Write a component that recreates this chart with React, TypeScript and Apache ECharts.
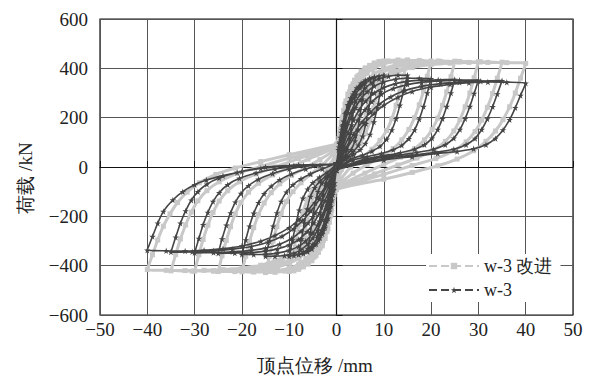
import React, { useEffect, useRef } from "react";
import * as echarts from "echarts";

// x-axis / y-axis ticks
const xTicks = [-50, -40, -30, -20, -10, 0, 10, 20, 30, 40, 50];
const yTicks = [-600, -400, -200, 0, 200, 400, 600];

// w-3 (dark, star markers): one hysteresis cycle per array, [displacement mm, load kN]
const w3_d02 = [[0,10],[0.4,70],[0.8,120],[1.2,150],[1.6,170],[2,180],[1.7,130],[1.4,80],[1,40],[0.5,10],[0,-10],[-0.4,-65],[-0.8,-112],[-1.2,-142],[-1.6,-160],[-2,-170],[-1.7,-122],[-1.4,-75],[-1,-38],[-0.5,-8],[0,10]];
const w3_d04 = [[0,12],[0.5,80],[1,140],[1.5,185],[2,220],[2.5,245],[3,265],[3.5,280],[4,290],[3.6,230],[3.2,170],[2.8,115],[2.3,70],[1.6,40],[0.8,18],[0,-12],[-0.5,-78],[-1,-135],[-1.5,-180],[-2,-213],[-2.5,-238],[-3,-258],[-3.5,-272],[-4,-280],[-3.6,-220],[-3.2,-162],[-2.8,-110],[-2.3,-66],[-1.6,-37],[-0.8,-15],[0,12]];
const w3_d06 = [[0,14],[0.6,95],[1.2,165],[1.8,215],[2.4,252],[3,280],[3.8,305],[4.6,322],[5.3,333],[6,340],[5.5,275],[5,210],[4.5,152],[3.9,105],[3.1,70],[2,45],[1,24],[0,-12],[-0.6,-92],[-1.2,-160],[-1.8,-208],[-2.4,-245],[-3,-272],[-3.8,-297],[-4.6,-314],[-5.3,-324],[-6,-330],[-5.5,-266],[-5,-202],[-4.5,-146],[-3.9,-100],[-3.1,-66],[-2,-42],[-1,-22],[0,14]];
const w3_d08 = [[0,15],[0.7,100],[1.4,170],[2.1,225],[2.8,265],[3.5,295],[4.3,320],[5.2,340],[6.1,352],[7,360],[8,365],[7.4,300],[6.8,235],[6.2,175],[5.5,125],[4.6,88],[3.5,62],[2.2,40],[1,20],[0,-12],[-0.7,-97],[-1.4,-165],[-2.1,-218],[-2.8,-258],[-3.5,-288],[-4.3,-312],[-5.2,-332],[-6.1,-344],[-7,-351],[-8,-355],[-7.4,-292],[-6.8,-228],[-6.2,-170],[-5.5,-120],[-4.6,-84],[-3.5,-58],[-2.2,-37],[-1,-18],[0,15]];
const w3_d10 = [[0,15],[0.8,95],[1.6,165],[2.4,220],[3.2,262],[4,293],[5,320],[6,340],[7,354],[8,363],[9,369],[10,372],[9.3,305],[8.6,240],[7.9,182],[7.1,132],[6.1,95],[5,70],[3.6,50],[2,32],[0,-12],[-0.8,-92],[-1.6,-160],[-2.4,-214],[-3.2,-256],[-4,-287],[-5,-313],[-6,-332],[-7,-345],[-8,-354],[-9,-359],[-10,-362],[-9.3,-296],[-8.6,-232],[-7.9,-175],[-7.1,-127],[-6.1,-90],[-5,-64],[-3.6,-42],[-2,-22],[0,15]];
const w3_d15 = [[0,15],[1,95],[2,165],[3,220],[4,262],[5,295],[6,318],[7.5,342],[9,358],[11,368],[13,372],[15,372],[14.2,310],[13.4,250],[12.6,196],[11.7,150],[10.6,112],[9.2,84],[7.5,64],[5.5,48],[3,32],[0,-12],[-1,-92],[-2,-160],[-3,-214],[-4,-256],[-5,-288],[-6,-311],[-7.5,-335],[-9,-350],[-11,-359],[-13,-362],[-15,-362],[-14.2,-300],[-13.4,-240],[-12.6,-186],[-11.7,-140],[-10.6,-102],[-9.2,-72],[-7.5,-48],[-5.5,-28],[-3,-8],[0,15]];
const w3_d20 = [[0,14],[1,80],[2,145],[3,198],[4,240],[5,272],[6.5,305],[8,328],[10,345],[12.5,356],[15,360],[17.5,360],[20,358],[19.2,300],[18.4,245],[17.5,194],[16.5,150],[15.3,115],[13.8,88],[12,70],[9.5,55],[6.5,42],[3.5,28],[0,-12],[-1,-80],[-2,-143],[-3,-195],[-4,-236],[-5,-268],[-6.5,-300],[-8,-322],[-10,-338],[-12.5,-349],[-15,-354],[-17.5,-355],[-20,-355],[-19.2,-296],[-18.4,-240],[-17.5,-188],[-16.5,-145],[-15.3,-108],[-13.8,-78],[-12,-52],[-9.5,-28],[-6.5,-8],[-3.5,6],[0,14]];
const w3_d25 = [[0,13],[1.2,75],[2.4,138],[3.6,190],[4.8,232],[6.2,268],[8,300],[10,322],[12.5,338],[15,347],[18,352],[21.5,354],[25,355],[24.2,300],[23.3,245],[22.4,196],[21.4,152],[20.2,117],[18.6,90],[16.5,72],[13.5,58],[10,46],[6,32],[0,-12],[-1.2,-75],[-2.4,-136],[-3.6,-186],[-4.8,-227],[-6.2,-262],[-8,-294],[-10,-316],[-12.5,-332],[-15,-341],[-18,-347],[-21.5,-349],[-25,-350],[-24.2,-292],[-23.3,-236],[-22.4,-186],[-21.4,-143],[-20.2,-107],[-18.6,-76],[-16.5,-50],[-13.5,-26],[-10,-8],[-5,6],[0,13]];
const w3_d30 = [[0,12],[1.5,75],[3,138],[4.5,190],[6,232],[7.5,265],[9.5,295],[12,318],[15,334],[18,343],[22,349],[26,352],[30,352],[29.1,298],[28.2,245],[27.2,196],[26.1,152],[24.8,117],[23,90],[20.5,72],[17,59],[13,48],[8,34],[0,-12],[-1.5,-74],[-3,-135],[-4.5,-186],[-6,-227],[-7.5,-260],[-9.5,-290],[-12,-313],[-15,-329],[-18,-338],[-22,-344],[-26,-347],[-30,-348],[-29.1,-290],[-28.2,-234],[-27.2,-184],[-26.1,-140],[-24.8,-104],[-23,-72],[-20.5,-46],[-17,-24],[-13,-8],[-7,6],[0,12]];
const w3_d35 = [[0,12],[1.8,72],[3.6,132],[5.4,182],[7.2,222],[9,254],[11.5,285],[14.5,310],[18,327],[22,338],[26,344],[30.5,348],[35,350],[34,296],[33,244],[31.9,195],[30.7,152],[29.3,116],[27.4,90],[24.8,72],[21,60],[16,48],[10,34],[0,-12],[-1.8,-72],[-3.6,-130],[-5.4,-178],[-7.2,-218],[-9,-250],[-11.5,-281],[-14.5,-305],[-18,-322],[-22,-333],[-26,-340],[-30.5,-344],[-35,-345],[-34,-285],[-33,-228],[-31.9,-178],[-30.7,-135],[-29.3,-100],[-27.4,-70],[-24.8,-45],[-21,-22],[-16,-6],[-9,6],[0,12]];
const w3_d40 = [[0,12],[2,70],[4,128],[6,178],[8,218],[10,250],[13,283],[16,306],[20,324],[24,335],[28,342],[32,345],[36,344],[40,340],[38.9,290],[37.8,240],[36.6,192],[35.2,150],[33.6,116],[31.6,90],[29,74],[25.5,63],[21.4,55],[16,42],[10,28],[0,-12],[-2,-70],[-4,-126],[-6,-175],[-8,-214],[-10,-246],[-13,-278],[-16,-301],[-20,-320],[-24,-331],[-28,-338],[-32,-341],[-36,-340],[-40,-337],[-38.9,-282],[-37.8,-228],[-36.6,-180],[-34.6,-134],[-32.5,-100],[-30,-72],[-27.5,-53],[-24,-35],[-20,-18],[-15,0],[-8,8],[0,12]];

// w-3 改进 (light grey, square markers)
const wi_d02 = [[0,30],[0.4,100],[0.8,155],[1.2,192],[1.6,212],[2,222],[1.7,170],[1.4,115],[1,65],[0.5,10],[0,-30],[-0.4,-98],[-0.8,-150],[-1.2,-186],[-1.6,-206],[-2,-215],[-1.7,-165],[-1.4,-110],[-1,-60],[-0.5,-8],[0,30]];
const wi_d04 = [[0,40],[0.5,115],[1,180],[1.5,230],[2,268],[2.5,295],[3,315],[3.5,328],[4,335],[3.6,275],[3.2,212],[2.8,155],[2.3,100],[1.6,50],[0.8,5],[0,-40],[-0.5,-112],[-1,-175],[-1.5,-224],[-2,-262],[-2.5,-290],[-3,-310],[-3.5,-322],[-4,-328],[-3.6,-268],[-3.2,-206],[-2.8,-150],[-2.3,-96],[-1.6,-46],[-0.8,-2],[0,40]];
const wi_d06 = [[0,50],[0.6,130],[1.2,200],[1.8,255],[2.4,295],[3,325],[3.8,352],[4.6,370],[5.3,380],[6,385],[5.5,320],[5,255],[4.5,195],[3.9,140],[3.1,92],[2,45],[1,5],[0,-50],[-0.6,-128],[-1.2,-196],[-1.8,-250],[-2.4,-290],[-3,-320],[-3.8,-346],[-4.6,-364],[-5.3,-374],[-6,-378],[-5.5,-312],[-5,-248],[-4.5,-188],[-3.9,-134],[-3.1,-88],[-2,-42],[-1,-2],[0,50]];
const wi_d08 = [[0,58],[0.7,135],[1.4,205],[2.1,262],[2.8,305],[3.5,337],[4.3,365],[5.2,388],[6.1,402],[7,410],[8,415],[7.4,350],[6.8,285],[6.2,222],[5.5,165],[4.6,115],[3.5,72],[2.2,30],[1,-10],[0,-58],[-0.7,-132],[-1.4,-200],[-2.1,-256],[-2.8,-298],[-3.5,-330],[-4.3,-358],[-5.2,-380],[-6.1,-394],[-7,-402],[-8,-407],[-7.4,-342],[-6.8,-278],[-6.2,-216],[-5.5,-160],[-4.6,-110],[-3.5,-68],[-2.2,-26],[-1,12],[0,58]];
const wi_d10 = [[0,65],[0.8,140],[1.6,210],[2.4,268],[3.2,312],[4,345],[5,375],[6,397],[7,412],[8,422],[9,428],[10,430],[9.3,365],[8.6,300],[7.9,240],[7.1,185],[6.1,135],[5,95],[3.6,55],[2,15],[0,-65],[-0.8,-138],[-1.6,-206],[-2.4,-262],[-3.2,-306],[-4,-338],[-5,-368],[-6,-390],[-7,-405],[-8,-415],[-9,-421],[-10,-424],[-9.3,-358],[-8.6,-294],[-7.9,-234],[-7.1,-180],[-6.1,-130],[-5,-90],[-3.6,-50],[-2,-10],[0,65]];
const wi_d15 = [[0,75],[1,150],[2,220],[3,278],[4,322],[5,355],[6,380],[7.5,405],[9,420],[11,430],[13,434],[15,434],[14.2,370],[13.4,308],[12.6,250],[11.7,196],[10.6,148],[9.2,108],[7.5,72],[5.5,40],[3,0],[0,-75],[-1,-148],[-2,-216],[-3,-272],[-4,-316],[-5,-348],[-6,-372],[-7.5,-396],[-9,-412],[-11,-422],[-13,-427],[-15,-428],[-14.2,-362],[-13.4,-300],[-12.6,-242],[-11.7,-188],[-10.6,-140],[-9.2,-100],[-7.5,-64],[-5.5,-30],[-3,8],[0,75]];
const wi_d20 = [[0,80],[1,145],[2,212],[3,268],[4,312],[5,345],[6.5,380],[8,402],[10,418],[12.5,428],[15,432],[17.5,432],[20,430],[19.2,368],[18.4,308],[17.5,252],[16.5,200],[15.3,152],[13.8,110],[12,75],[9.5,42],[6.5,10],[3.5,-25],[0,-80],[-1,-143],[-2,-208],[-3,-262],[-4,-305],[-5,-338],[-6.5,-372],[-8,-394],[-10,-410],[-12.5,-420],[-15,-425],[-17.5,-426],[-20,-425],[-19.2,-362],[-18.4,-302],[-17.5,-246],[-16.5,-194],[-15.3,-146],[-13.8,-104],[-12,-68],[-9.5,-34],[-6.5,-2],[-3.5,30],[0,80]];
const wi_d25 = [[0,85],[1.2,150],[2.4,215],[3.6,270],[4.8,312],[6.2,348],[8,378],[10,398],[12.5,414],[15,423],[18,428],[21.5,430],[25,429],[24.2,366],[23.3,305],[22.4,250],[21.4,198],[20.2,152],[18.6,110],[16.5,74],[13.5,40],[10,10],[6,-25],[0,-85],[-1.2,-148],[-2.4,-211],[-3.6,-264],[-4.8,-305],[-6.2,-340],[-8,-370],[-10,-390],[-12.5,-406],[-15,-416],[-18,-421],[-21.5,-424],[-25,-424],[-24.2,-360],[-23.3,-298],[-22.4,-242],[-21.4,-190],[-20.2,-144],[-18.6,-102],[-16.5,-66],[-13.5,-32],[-10,-2],[-6,32],[0,85]];
const wi_d30 = [[0,88],[1.5,160],[3,225],[4.5,278],[6,318],[7.5,350],[9.5,380],[12,402],[15,416],[18,424],[22,428],[26,428],[30,427],[29.1,362],[28.2,300],[27.2,244],[26.1,192],[24.8,146],[23,104],[20.5,68],[17,36],[13,8],[8,-28],[0,-88],[-1.5,-158],[-3,-220],[-4.5,-272],[-6,-312],[-7.5,-344],[-9.5,-372],[-12,-394],[-15,-408],[-18,-416],[-22,-420],[-26,-422],[-30,-422],[-29.1,-356],[-28.2,-294],[-27.2,-236],[-26.1,-184],[-24.8,-138],[-23,-96],[-20.5,-60],[-17,-28],[-13,0],[-8,34],[0,88]];
const wi_d35 = [[0,90],[1.8,165],[3.6,232],[5.4,285],[7.2,325],[9,355],[11.5,383],[14.5,403],[18,416],[22,423],[26,426],[30.5,426],[35,425],[34,360],[33,298],[31.9,242],[30.7,190],[29.3,144],[27.4,102],[24.8,66],[21,34],[16,6],[10,-30],[0,-90],[-1.8,-162],[-3.6,-228],[-5.4,-280],[-7.2,-319],[-9,-348],[-11.5,-376],[-14.5,-396],[-18,-410],[-22,-418],[-26,-421],[-30.5,-422],[-35,-421],[-34,-355],[-33,-292],[-31.9,-235],[-30.7,-183],[-29.3,-137],[-27.4,-96],[-24.8,-60],[-21,-26],[-16,2],[-10,36],[0,90]];
const wi_d40 = [[0,92],[2,170],[4,240],[6,292],[8,330],[10,358],[13,385],[16,403],[20,415],[24,421],[28,424],[32,424],[36,423],[40,420],[38.9,360],[37.8,300],[36.6,244],[35.2,192],[33.6,146],[31.6,104],[29,66],[25.5,32],[21.4,5],[16,-22],[10,-50],[0,-92],[-2,-168],[-4,-236],[-6,-288],[-8,-325],[-10,-352],[-13,-380],[-16,-398],[-20,-410],[-24,-416],[-28,-419],[-32,-420],[-36,-419],[-40,-416],[-38.9,-356],[-37.8,-296],[-36.6,-240],[-35.2,-190],[-33.6,-144],[-31.6,-102],[-29,-64],[-25.5,-30],[-21.4,-4],[-16,22],[-10,50],[0,92]];

const seriesNames = ["w-3 改进", "w-3"];

const w3Data = [...w3_d02, ...w3_d04, ...w3_d06, ...w3_d08, ...w3_d10, ...w3_d15, ...w3_d20, ...w3_d25, ...w3_d30, ...w3_d35, ...w3_d40];
const wiData = [...wi_d02, ...wi_d04, ...wi_d06, ...wi_d08, ...wi_d10, ...wi_d15, ...wi_d20, ...wi_d25, ...wi_d30, ...wi_d35, ...wi_d40];

const STAR = "path://M50,0L61,35L98,35L68,57L79,91L50,70L21,91L32,57L2,35L39,35Z";
const SERIF = "Liberation Serif";
const fmt = (v: number) => String(v).replace("-", "\u2212");

export default function App() {
  const ref = useRef<HTMLDivElement>(null);
  useEffect(() => {
    if (!ref.current) return;
    const chart = echarts.init(ref.current, null, { renderer: "svg" });
    chart.setOption({
      animation: false,
      backgroundColor: "#fff",
      grid: { left: 100, right: 16, top: 19, bottom: 62, show: true, borderColor: "#111", borderWidth: 1.2 },
      xAxis: {
        type: "value",
        min: xTicks[0],
        max: xTicks[xTicks.length - 1],
        interval: 10,
        axisLine: { lineStyle: { color: "#111", width: 1.2 } },
        axisTick: { show: true, inside: true, length: 6, lineStyle: { color: "#111" } },
        splitLine: { show: true, lineStyle: { color: "#555", width: 1 } },
        axisLabel: { fontFamily: SERIF, fontSize: 19, color: "#222", margin: 5, formatter: fmt },
      },
      yAxis: {
        type: "value",
        min: yTicks[0],
        max: yTicks[yTicks.length - 1],
        interval: 200,
        axisLine: { show: true, lineStyle: { color: "#111", width: 1.2 } },
        axisTick: { show: true, inside: true, length: 6, lineStyle: { color: "#111" } },
        splitLine: { show: true, lineStyle: { color: "#555", width: 1 } },
        axisLabel: { fontFamily: SERIF, fontSize: 19, color: "#222", margin: 12, formatter: fmt },
      },
      legend: {
        data: seriesNames,
        orient: "vertical",
        left: 426,
        top: 254,
        itemWidth: 50,
        itemHeight: 8,
        itemGap: 6,
        padding: [3, 8, 3, 2],
        backgroundColor: "#fff",
        lineStyle: { type: "dashed" },
        textStyle: { fontFamily: SERIF, fontSize: 18, color: "#222" },
      },
      graphic: [
        {
          type: "text",
          x: 315,
          y: 365,
          style: { text: "顶点位移 /mm", fontFamily: SERIF, fontSize: 19, fill: "#222", align: "center", verticalAlign: "middle" },
        },
        {
          type: "text",
          x: 25,
          y: 178,
          rotation: Math.PI / 2,
          style: { text: "荷载 /kN", fontFamily: SERIF, fontSize: 19, fill: "#222", align: "center", verticalAlign: "middle" },
        },
      ],
      series: [
        {
          name: seriesNames[0],
          type: "line",
          data: wiData,
          smooth: 0.2,
          symbol: "rect",
          symbolSize: 5,
          lineStyle: { color: "#c8c8c8", width: 3 },
          itemStyle: { color: "#c8c8c8" },
          z: 2,
        },
        {
          name: seriesNames[1],
          type: "line",
          data: w3Data,
          smooth: 0.2,
          symbol: STAR,
          symbolSize: 6.5,
          lineStyle: { color: "#454545", width: 1.6 },
          itemStyle: { color: "#454545" },
          z: 3,
        },
      ],
    });
    return () => chart.dispose();
  }, []);
  return <div ref={ref} style={{ position: "fixed", left: 0, top: 0, width: 589, height: 377 }} />;
}
